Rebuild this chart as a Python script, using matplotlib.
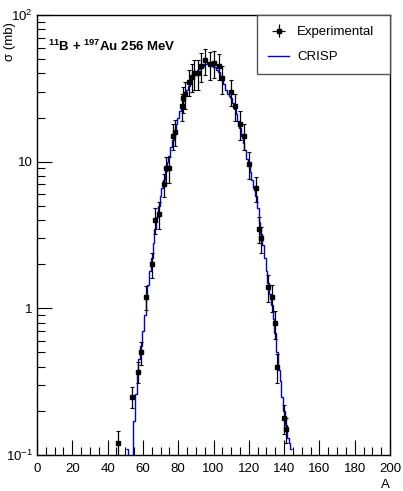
#bibliotecas
import numpy as np
import matplotlib
matplotlib.use("Agg")
import matplotlib.pyplot as plt
from matplotlib.ticker import FixedLocator, FixedFormatter, MultipleLocator

plt.rcParams['font.family'] = ['Liberation Sans', 'DejaVu Sans']
plt.rcParams['mathtext.fontset'] = 'custom'
plt.rcParams['mathtext.rm'] = 'Liberation Sans'
plt.rcParams['mathtext.bf'] = 'Liberation Sans:bold'
plt.rcParams['font.size'] = 9.5

# dados experimentais (A, sigma em mb, erro)
A_exp = [46, 54, 57, 59, 62, 65, 67, 69, 72, 73, 75, 77, 78, 82, 83, 84, 86, 88,
         89, 91, 93, 95, 98, 100, 103, 105, 110, 112, 115, 117, 120, 124, 126, 127,
         131, 133, 135, 136, 140, 141]
sig_exp = [0.12, 0.25, 0.37, 0.50, 1.2, 2.0, 4.0, 4.4, 7.0, 9.0, 9.0, 15, 16, 24, 27,
           29, 35, 38, 40, 40, 45, 49, 46, 47, 45, 37, 30, 24, 18, 15, 9.6, 6.6, 3.5,
           3.0, 1.4, 1.2, 0.79, 0.40, 0.18, 0.15]
err_exp = [0.025, 0.04, 0.06, 0.09, 0.22, 0.4, 0.8, 0.9, 1.3, 1.8, 1.8, 3, 3.2, 5,
           5.5, 6, 7, 8, 9, 9, 10, 10, 10, 10, 9, 8, 6, 5, 4, 3, 2, 1.3, 0.7, 0.6,
           0.3, 0.25, 0.17, 0.09, 0.04, 0.03]

# CRISP (histograma, um valor por A, de A=51 ate A=144)
A_crisp_ini = 51
sig_crisp = [0.11, 0.01, 0.01, 0.01, 0.17, 0.26, 0.35, 0.45, 0.55, 0.7,
             0.9, 1.15, 1.45, 1.8, 2.2, 2.8, 3.5, 4.2, 5.0, 5.8,
             6.6, 7.5, 8.6, 10, 11, 12.5, 14, 16, 18, 20,
             22, 24, 26, 28.5, 31, 33, 35, 37, 39, 40,
             42, 43, 44, 45, 46, 46.5, 47, 46, 45, 44,
             44, 42, 41, 38, 36, 34, 31, 29, 28, 27,
             25, 23, 21, 19, 17, 15, 13.5, 12, 10.5, 9.5,
             8.5, 7.5, 6.6, 5.8, 4.8, 3.9, 3.2, 2.7, 2.2, 1.8,
             1.5, 1.25, 1.05, 0.85, 0.68, 0.5, 0.38, 0.32, 0.25, 0.2,
             0.16, 0.13, 0.12, 0.11]

fig = plt.figure(figsize=(4.03, 4.91), dpi=100)
ax = fig.add_axes([37/403, 1 - 455/491, 353/403, 440/491])

bordas = np.arange(A_crisp_ini, A_crisp_ini + len(sig_crisp) + 1) - 0.5
ax.stairs(sig_crisp, bordas, color='#0000dd', lw=1.0, baseline=None, zorder=2)

ax.errorbar(A_exp, sig_exp, yerr=err_exp, fmt='s', color='black', ms=3.5,
            elinewidth=0.9, capsize=1.5, capthick=0.8, zorder=3)

ax.set_yscale('log')
ax.set_xlim(0, 200)
ax.set_ylim(0.1, 100)

ax.xaxis.set_major_locator(MultipleLocator(20))
ax.xaxis.set_minor_locator(MultipleLocator(5))
ax.yaxis.set_major_locator(FixedLocator([0.1, 1, 10, 100]))
ax.yaxis.set_major_formatter(FixedFormatter([r'$10^{-1}$', '1', '10', r'$10^{2}$']))
minor_y = [m * 10.0**e for e in (-1, 0, 1) for m in range(2, 10)]
ax.yaxis.set_minor_locator(FixedLocator(minor_y))
ax.yaxis.set_minor_formatter(FixedFormatter([''] * len(minor_y)))

ax.tick_params(which='both', direction='in', top=False, right=False, labelsize=9.5)
ax.tick_params(which='major', length=11, width=0.8)
ax.tick_params(which='minor', length=5.5, width=0.8)
ax.tick_params(axis='x', pad=6)
ax.tick_params(axis='y', pad=3)
for s in ax.spines.values():
    s.set_linewidth(1.0)

ax.text(0.03, 0.928, r'$^{\mathbf{11}}$B + $^{\mathbf{197}}$Au 256 MeV',
        transform=ax.transAxes, fontweight='bold', fontsize=9.5, ha='left', va='center')

fig.text(10/403, 1 - 22/491, 'σ (mb)', rotation=90, ha='center', va='top', fontsize=9.5)
fig.text(385/403, 1 - 485/491, 'A', ha='center', va='center', fontsize=9.5)

# legenda
h_exp = ax.errorbar([np.nan], [np.nan], xerr=[1], yerr=[1], fmt='s', color='black',
                    ms=3.5, elinewidth=0.9)
h_crisp, = ax.plot([np.nan], [np.nan], color='#0000dd', lw=1.0)
x0 = (257 - 37) / 353
leg = ax.legend([h_exp, h_crisp], ['Experimental', 'CRISP'], loc='upper left',
                bbox_to_anchor=(x0, 0, 1 - x0, 1), mode='expand', borderaxespad=0,
                fancybox=False, framealpha=1, edgecolor='#555555', fontsize=9.5,
                handlelength=1.6, handletextpad=0.6, borderpad=0.85,
                labelspacing=0.95)
leg.get_frame().set_linewidth(1.0)

plt.savefig('out.png', dpi=100)
